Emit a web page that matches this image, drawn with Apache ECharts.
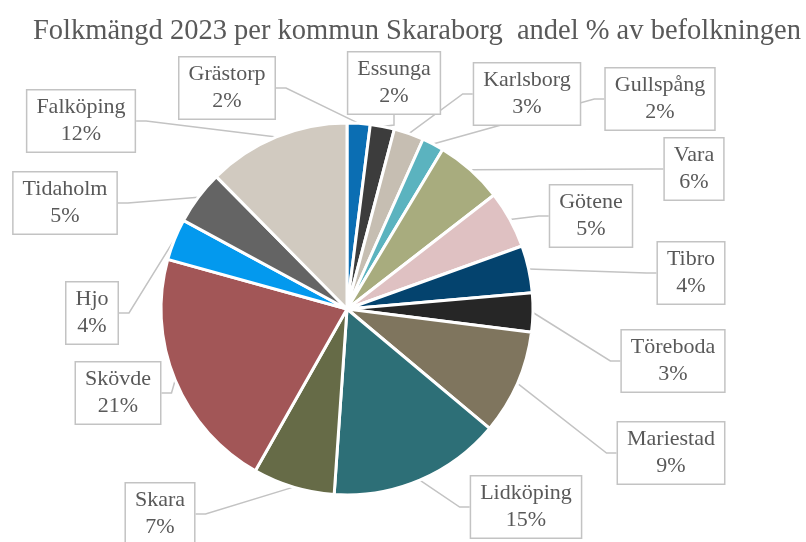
<!DOCTYPE html>
<html><head><meta charset="utf-8">
<script src="https://cdn.jsdelivr.net/npm/echarts@6/dist/echarts.min.js"></script>
<style>html,body{margin:0;padding:0;background:#fff}#c{width:806px;height:542px}</style>
</head><body><div id="c"></div>
<script>
const titleText = 'Folkmängd 2023 per kommun Skaraborg  andel % av befolkningen';
const kommuner = ['Grästorp','Essunga','Karlsborg','Gullspång','Vara','Götene','Tibro','Töreboda','Mariestad','Lidköping','Skara','Skövde','Hjo','Tidaholm','Falköping'];
const andel = [2.0, 2.1, 2.6, 1.9, 5.9, 5.0, 4.1, 3.4, 9.1, 15.0, 7.1, 21.1, 3.6, 4.7, 12.4];
const colors = ['#0B6EB3','#3C3C3C','#C6BEB2','#5BB3BF','#A8AC7E','#DFC1C2','#04436E','#262626','#7F755E','#2D6F77','#666B47','#A25657','#0399EE','#646464','#D1CAC0'];
// label box centres (layout only)
const labelPos = [[227,88],[394,83],[527,94],[660,99],[694,169],[591,216],[691,273],[673,361],[671,453],[526,507],[160,514],[118,393],[92,313],[65,203],[81,121]];

const SERIF = '"Liberation Serif", "DejaVu Serif", "Times New Roman", serif';
const total = andel.reduce((a,b)=>a+b,0);
const chart = echarts.init(document.getElementById('c'));
chart.setOption({
  animation:false,
  title:{text:titleText,left:412,textAlign:'center',top:12,
    textStyle:{fontFamily:SERIF,fontWeight:'normal',fontSize:28.5,color:'#595959'}},
  series:[{
    type:'pie',
    center:[347,309],
    radius:186,
    startAngle:90,
    clockwise:true,
    avoidLabelOverlap:false,
    itemStyle:{borderColor:'#fff',borderWidth:3},
    data: kommuner.map((k,i)=>({name:k,value:andel[i],itemStyle:{color:colors[i]}})),
    label:{
      show:true,position:'outside',
      formatter:p=>p.name+'\n'+Math.round(p.value/total*100)+'%',
      fontFamily:SERIF,fontSize:22,lineHeight:27,color:'#595959',
      backgroundColor:'#fff',borderColor:'#C3C3C3',borderWidth:1.5,
      padding:[4,9,3,9],align:'center'
    },
    labelLine:{show:true,length:15,length2:10,lineStyle:{color:'#C3C3C3',width:1.5}},
    labelLayout:function(params){
      const p = labelPos[params.dataIndex];
      return {x:p[0],y:p[1],align:'center',verticalAlign:'middle'};
    },
    emphasis:{disabled:true}
  }]
});
</script></body></html>
